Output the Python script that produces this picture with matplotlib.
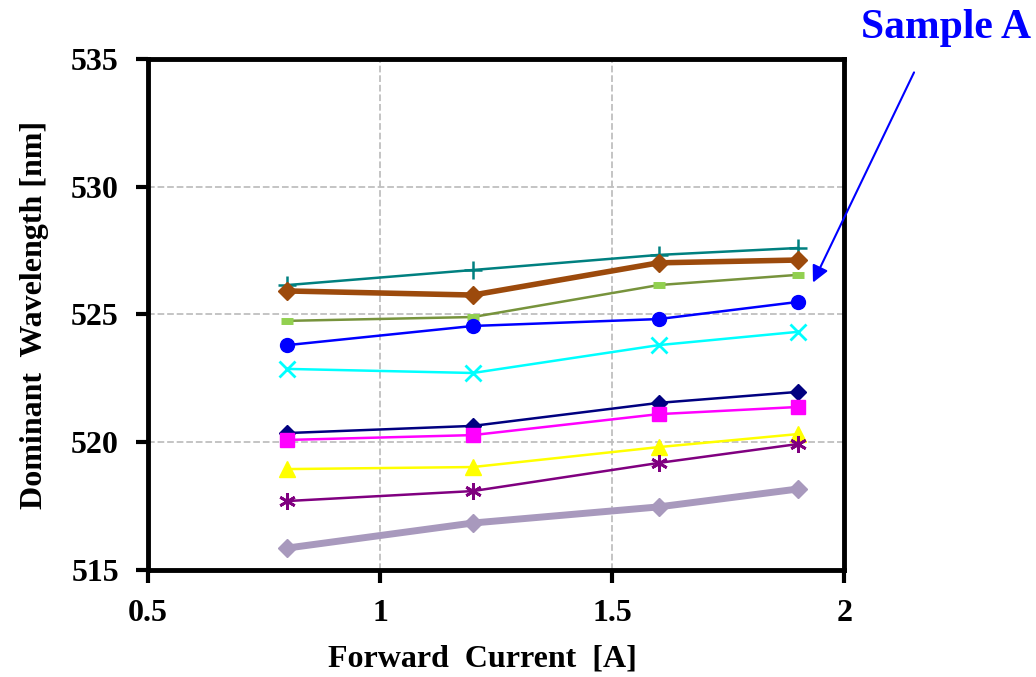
import matplotlib.pyplot as plt

plt.rcParams['font.family'] = ['Liberation Serif', 'DejaVu Serif']
plt.rcParams['font.weight'] = 'bold'

current = [0.8, 1.2, 1.6, 1.9]

teal_plus = [526.15, 526.74, 527.33, 527.6]
brown_diamond = [525.92, 525.76, 527.02, 527.13]
olive_dash = [524.75, 524.9, 526.15, 526.55]
blue_circle = [523.8, 524.55, 524.82, 525.49]
cyan_cross = [522.87, 522.71, 523.8, 524.32]
navy_diamond = [520.36, 520.64, 521.54, 521.97]
magenta_square = [520.09, 520.28, 521.1, 521.38]
yellow_triangle = [518.95, 519.03, 519.81, 520.32]
purple_star = [517.7, 518.09, 519.19, 519.93]
lavender_diamond = [515.86, 516.84, 517.47, 518.17]

fig = plt.figure(figsize=(10.36, 6.77), dpi=100)
ax = fig.add_axes([0.1429, 0.158, 0.672, 0.755])

ax.plot(current, teal_plus, color='#008080', lw=1.8, marker='+', ms=13, mew=1.8)
ax.plot(current, brown_diamond, color='#9C4A0C', lw=4, marker='D', ms=9)
ax.plot(current, olive_dash, color='#77933C', lw=1.8, marker='_', ms=9, mew=5,
        mec='#92D050')
ax.plot(current, blue_circle, color='#0000FF', lw=1.8, marker='o', ms=10)
ax.plot(current, cyan_cross, color='#00FFFF', lw=1.8, marker='x', ms=11, mew=2)
ax.plot(current, navy_diamond, color='#000080', lw=1.8, marker='D', ms=8)
ax.plot(current, magenta_square, color='#FF00FF', lw=1.8, marker='s', ms=10)
ax.plot(current, yellow_triangle, color='#FFFF00', lw=1.8, marker='^', ms=11)
ax.plot(current, purple_star, color='#800080', lw=1.8, marker=(6, 2, 0), ms=12, mew=2)
ax.plot(current, lavender_diamond, color='#A899BD', lw=5, marker='D', ms=9)

ax.set_xlim(0.5, 2)
ax.set_ylim(515, 535)
ax.set_xticks([0.5, 1, 1.5, 2])
ax.set_xticklabels(['0.5', '1', '1.5', '2'])
ax.set_yticks([515, 520, 525, 530, 535])
ax.grid(True, color='#BFBFBF', linestyle='--', lw=1.3)
ax.set_axisbelow(True)

for s in ax.spines.values():
    s.set_linewidth(3.5)
ax.tick_params(direction='out', length=9, width=3, labelsize=23, pad=12)

ax.set_xlabel('Forward  Current  [A]', fontsize=23, fontweight='bold',
              labelpad=12, x=0.48)
ax.set_ylabel('Dominant  Wavelength [nm]', fontsize=23, fontweight='bold', labelpad=16)

ax.annotate('', xy=(1.93, 526.15), xytext=(2.153, 534.57), xycoords='data',
            annotation_clip=False,
            arrowprops=dict(arrowstyle='-|>', color='#0000FF', lw=1.5,
                            mutation_scale=25))
fig.text(0.913, 0.958, 'Sample A', color='#0000FF', fontsize=30,
         fontweight='bold', ha='center', va='center')

fig.savefig('out.png', dpi=100)
